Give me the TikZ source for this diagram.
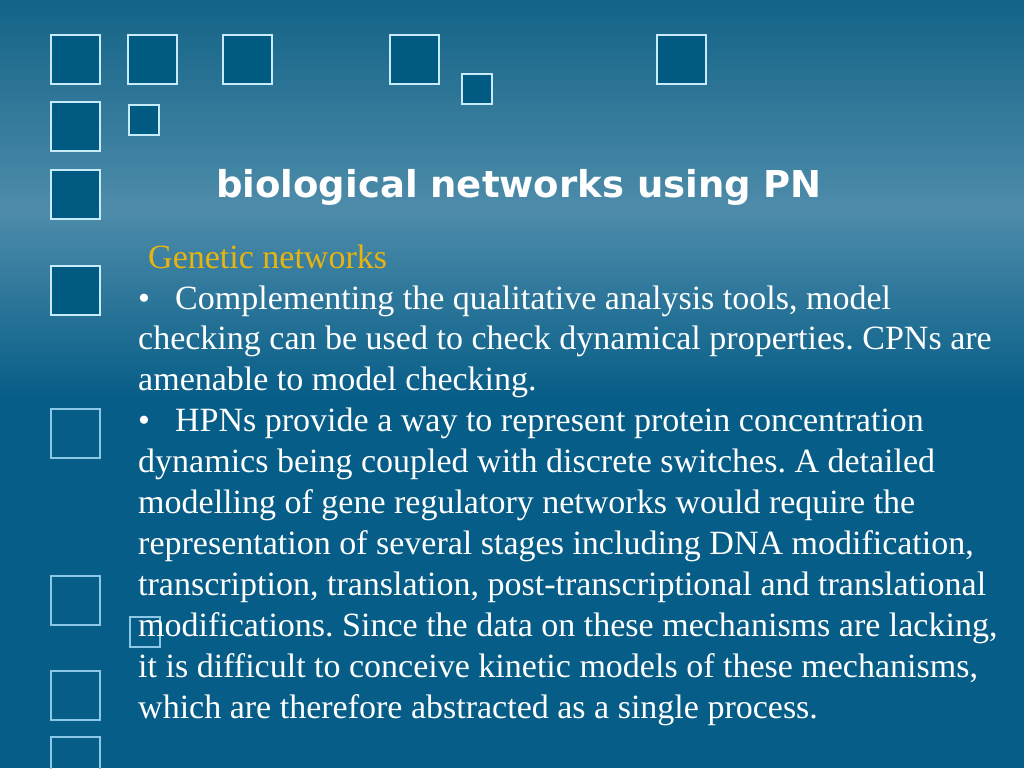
\documentclass[tikz,border=0pt]{standalone}
\usepackage{fontspec}
\setmainfont{Liberation Serif}
\newfontfamily\titlefont{DejaVu Sans}
\definecolor{bgtop}{HTML}{136387}
\definecolor{bglight}{HTML}{4E8CAA}
\definecolor{bgdark}{HTML}{065D87}
\definecolor{boxfill}{HTML}{005A82}
\definecolor{boxline}{HTML}{C8EBFA}
\definecolor{openline}{HTML}{8CC8E6}
\definecolor{gold}{HTML}{E8B410}
\frenchspacing
\begin{document}
\begin{tikzpicture}[x=1pt, y=-1pt,
    box/.style={draw=boxline, fill=boxfill, line width=2pt, inner sep=0pt, minimum width=49pt, minimum height=49pt},
    smallbox/.style={box, minimum width=30pt, minimum height=30pt},
    openbox/.style={draw=openline, line width=2pt, inner sep=0pt, minimum width=49pt, minimum height=49pt},
    body/.style={anchor=base west, inner sep=0pt, text=white, font=\fontsize{34}{41}\selectfont}]
    \useasboundingbox (0,0) rectangle (1024,768);

    % Background
    \fill[top color=bgtop, bottom color=bglight] (0,0) rectangle (1024,210);
    \fill[top color=bglight, bottom color=bgdark] (0,209.5) rectangle (1024,400);
    \fill[bgdark] (0,399.5) rectangle (1024,768);

    % Filled squares
    \node[box] (b1) at (75.5, 59.5) {};
    \node[box] (b2) at (152, 59.5) {};
    \node[box] (b3) at (247.5, 59.5) {};
    \node[box] (b4) at (414.5, 59.5) {};
    \node[smallbox] (s1) at (477, 89) {};
    \node[box] (b5) at (681, 59.5) {};
    \node[box] (b6) at (75.5, 126.5) {};
    \node[smallbox] (s2) at (144, 120) {};
    \node[box] (b7) at (75.5, 194) {};
    \node[box] (b8) at (75.5, 290) {};

    % Open squares
    \node[openbox] (o1) at (75.5, 433) {};
    \node[openbox] (o2) at (75.5, 600) {};
    \node[openbox] (o3) at (75.5, 695) {};
    \node[openbox] (o4) at (75.5, 761) {};
    \node[openbox, minimum width=30pt, minimum height=30pt] (o5) at (144.5, 632) {};

    % Title
    \node[anchor=base west, inner sep=0pt, text=white, font=\titlefont\bfseries\fontsize{37}{44}\selectfont] (title) at (216,197) {biological networks using PN};

    % Text
    \node[body, text=gold] (head) at (148,268) {Genetic networks};
    \foreach \txt [count=\i from 0] in {
        {\makebox[37pt][l]{•}Complementing the qualitative analysis tools, model},
        {checking can be used to check dynamical properties. CPNs are},
        {amenable to model checking.},
        {\makebox[37pt][l]{•}HPNs provide a way to represent protein concentration},
        {dynamics being coupled with discrete switches. A detailed},
        {modelling of gene regulatory networks would require the},
        {representation of several stages including DNA modification,},
        {transcription, translation, post-transcriptional and translational},
        {modifications. Since the data on these mechanisms are lacking,},
        {it is difficult to conceive kinetic models of these mechanisms,},
        {which are therefore abstracted as a single process.}}
        \node[body] (line\i) at (138, 309+40.9*\i) {\txt};
\end{tikzpicture}
\end{document}
